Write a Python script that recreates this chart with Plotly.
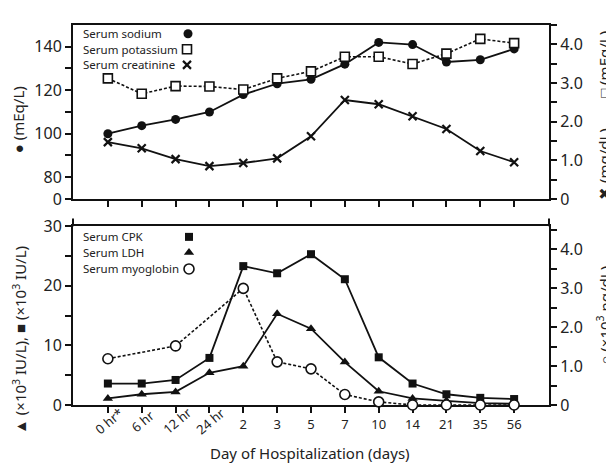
import plotly.graph_objects as go

# ---------------- data ----------------
days = ["0 hr*", "6 hr", "12 hr", "24 hr", "2", "3", "5", "7", "10", "14", "21", "35", "56"]
sodium = [100, 103.7, 106.6, 110, 118, 123, 125, 132, 142, 141, 133, 134, 139]          # mEq/L (left)
potassium = [3.12, 2.72, 2.92, 2.91, 2.83, 3.12, 3.30, 3.68, 3.68, 3.49, 3.76, 4.14, 4.03]  # mEq/L (right)
creatinine = [1.47, 1.31, 1.03, 0.85, 0.93, 1.05, 1.62, 2.56, 2.45, 2.14, 1.81, 1.24, 0.95]  # mg/dL (right)
cpk = [3.6, 3.6, 4.2, 7.9, 23.3, 22.1, 25.3, 21.1, 8.0, 3.6, 1.8, 1.2, 1.0]               # x10^3 IU/L (left)
ldh = [1.1, 1.8, 2.2, 5.4, 6.5, 15.3, 12.8, 7.2, 2.3, 1.1, 0.7, 0.3, 0.2]                 # x10^3 IU/L (left)
myoglobin = [1.19, None, 1.52, None, 3.0, 1.11, 0.93, 0.27, 0.08, 0.0, 0.0, 0.0, 0.0]     # x10^3 ng/dL (right)

top_left_ticks = [70, 80, 90, 100, 110, 120, 130, 140]
top_left_text = ["0", "80", "", "100", "", "120", "", "140"]
right_ticks = [0, 0.5, 1.0, 1.5, 2.0, 2.5, 3.0, 3.5, 4.0, 4.5]
right_text = ["0", "", "1.0", "", "2.0", "", "3.0", "", "4.0", ""]
bot_left_ticks = [0, 5, 10, 15, 20, 25, 30]
bot_left_text = ["0", "", "10", "", "20", "", "30"]
rotated_labels = ["0 hr*", "6 hr", "12 hr", "24 hr"]

FONT = "Noto Sans"
INK = "#111111"
TXT = "#222222"

# ---------------- geometry (pixels of the 614x467 window) ----------------
PAGE_W, PAGE_H = 614, 467
OFF = 8                       # default body margin of the html page
W, H = PAGE_W - OFF, PAGE_H - OFF
L, R, T, B = 73, 549, 14, 405  # plot area in window pixels
PH = B - T
def py(p):  # window pixel y -> paper y
    return (B - p) / PH
def px(p):  # window pixel x -> paper x
    return (p - L) / (R - L)

top_dom = [py(193), 1.0]
bot_dom = [0.0, py(221)]

fig = go.Figure()

line_solid = dict(color=INK, width=1.8)
line_dash = dict(color=INK, width=1.6, dash="3px,2px")

fig.add_trace(go.Scatter(x=days, y=sodium, xaxis="x", yaxis="y", mode="lines+markers",
                         line=line_solid, marker=dict(symbol="circle", size=9, color=INK),
                         cliponaxis=False))
fig.add_trace(go.Scatter(x=days, y=potassium, xaxis="x", yaxis="y2", mode="lines+markers",
                         line=line_dash,
                         marker=dict(symbol="square", size=9, color="white", line=dict(color=INK, width=1.6)),
                         cliponaxis=False))
fig.add_trace(go.Scatter(x=days, y=creatinine, xaxis="x", yaxis="y2", mode="lines+markers",
                         line=line_solid,
                         marker=dict(symbol="x-thin", size=8, color=INK, line=dict(color=INK, width=2.2)),
                         cliponaxis=False))
fig.add_trace(go.Scatter(x=days, y=cpk, xaxis="x2", yaxis="y3", mode="lines+markers",
                         line=line_solid, marker=dict(symbol="square", size=8, color=INK),
                         cliponaxis=False))
fig.add_trace(go.Scatter(x=days, y=ldh, xaxis="x2", yaxis="y3", mode="lines+markers",
                         line=line_solid, marker=dict(symbol="triangle-up", size=9, color=INK),
                         cliponaxis=False))
fig.add_trace(go.Scatter(x=days, y=myoglobin, xaxis="x2", yaxis="y4", mode="lines+markers",
                         line=line_dash, connectgaps=True,
                         marker=dict(symbol="circle", size=10, color="white", line=dict(color=INK, width=1.6)),
                         cliponaxis=False))

# ---------------- legend keys (text left, symbol right) ----------------
legend_names = ["Serum sodium", "Serum potassium", "Serum creatinine",
                "Serum CPK", "Serum LDH", "Serum myoglobin"]
legend_text_y = [23, 39, 55, 232, 248, 265]
legend_key_x = [188, 187, 187, 189, 189, 189]
legend_key_style = [
    dict(symbol="circle", size=9, color=INK),
    dict(symbol="square", size=9, color="white", line=dict(color=INK, width=1.6)),
    dict(symbol="x-thin", size=8, color=INK, line=dict(color=INK, width=2.2)),
    dict(symbol="square", size=8, color=INK),
    dict(symbol="triangle-up", size=9, color=INK),
    dict(symbol="circle", size=10, color="white", line=dict(color=INK, width=1.6)),
]
for kx, ky, st in zip(legend_key_x, legend_text_y, legend_key_style):
    fig.add_trace(go.Scatter(x=[kx], y=[ky], xaxis="x3", yaxis="y5", mode="markers",
                             marker=st, hoverinfo="skip", cliponaxis=False))

annotations = []
for name, ty in zip(legend_names, legend_text_y):
    annotations.append(dict(text=name, xref="paper", yref="paper", x=px(81), y=py(ty),
                            xanchor="left", yanchor="middle", showarrow=False,
                            font=dict(family=FONT, size=11.5, color=TXT)))

# rotated x tick labels
for lab in rotated_labels:
    annotations.append(dict(text=lab, xref="x2", yref="paper", x=lab, y=py(421),
                            xanchor="center", yanchor="middle", showarrow=False, textangle=-40,
                            xshift=1, font=dict(family=FONT, size=13, color=TXT)))

# axis titles
annotations += [
    dict(text="Day of Hospitalization (days)", xref="paper", yref="paper", x=px(310), y=py(454),
         xanchor="center", yanchor="middle", showarrow=False, font=dict(family=FONT, size=15, color=TXT)),
    dict(text="● (mEq/L)", xref="paper", yref="paper", x=px(18), y=py(112), textangle=-90,
         xanchor="center", yanchor="middle", showarrow=False, font=dict(family=FONT, size=15, color=TXT)),
    dict(text="□ (mEq/L)", xref="paper", yref="paper", x=px(604), y=py(55), textangle=-90,
         xanchor="center", yanchor="middle", showarrow=False, font=dict(family=FONT, size=15, color=TXT)),
    dict(text="✖ (mg/dL)", xref="paper", yref="paper", x=px(604), y=py(157), textangle=-90,
         xanchor="center", yanchor="middle", showarrow=False, font=dict(family=FONT, size=15, color=TXT)),
    dict(text="▲ (×10<sup>3</sup> IU/L), ■ (×10<sup>3</sup> IU/L)", xref="paper", yref="paper",
         x=px(20), y=py(338), textangle=-90,
         xanchor="center", yanchor="middle", showarrow=False, font=dict(family=FONT, size=15, color=TXT)),
    dict(text="○ (×10<sup>3</sup> ng/dL)", xref="paper", yref="paper", x=px(604), y=py(313), textangle=-90,
         xanchor="center", yanchor="middle", showarrow=False, font=dict(family=FONT, size=15, color=TXT)),
]

axis_common = dict(showline=True, linecolor=INK, linewidth=2, ticks="outside", ticklen=6,
                   tickwidth=1.5, tickcolor=INK, showgrid=False, zeroline=False,
                   tickfont=dict(family=FONT, size=16, color=TXT), layer="below traces")

xcommon = dict(axis_common, type="category", range=[-1.03, len(days) - 1 + 1.03],
               tickmode="array", tickvals=days, mirror=True, ticklen=6)

fig.update_layout(
    width=W, height=H,
    margin=dict(l=L - OFF, r=PAGE_W - R, t=T - OFF, b=PAGE_H - B, pad=0),
    paper_bgcolor="white", plot_bgcolor="rgba(0,0,0,0)",
    showlegend=False,
    xaxis=dict(xcommon, domain=[0, 1], anchor="y", showticklabels=False),
    yaxis=dict(axis_common, domain=top_dom, anchor="x", range=[70, 150],
               tickmode="array", tickvals=top_left_ticks, ticktext=top_left_text),
    yaxis2=dict(axis_common, overlaying="y", side="right", anchor="x", range=[0, 4.5],
                tickmode="array", tickvals=right_ticks, ticktext=right_text),
    xaxis2=dict(xcommon, domain=[0, 1], anchor="y3",
                ticktext=["" if d in rotated_labels else d for d in days],
                tickfont=dict(family=FONT, size=13, color=TXT)),
    yaxis3=dict(axis_common, domain=bot_dom, anchor="x2", range=[0, 30],
                tickmode="array", tickvals=bot_left_ticks, ticktext=bot_left_text),
    yaxis4=dict(axis_common, overlaying="y3", side="right", anchor="x2", range=[0, 4.6],
                tickmode="array", tickvals=right_ticks, ticktext=right_text),
    xaxis3=dict(domain=[0, 1], anchor="y5", range=[L, R], visible=False),
    yaxis5=dict(domain=[0, 1], anchor="x3", range=[B, T], visible=False),
    annotations=annotations,
    shapes=[
        dict(type="line", xref="paper", yref="paper", x0=0, x1=0, y0=bot_dom[1], y1=py(213),
             line=dict(color=INK, width=2)),
        dict(type="line", xref="paper", yref="paper", x0=1, x1=1, y0=bot_dom[1], y1=py(213),
             line=dict(color=INK, width=2)),
    ],
)

fig.write_html("out.html")
